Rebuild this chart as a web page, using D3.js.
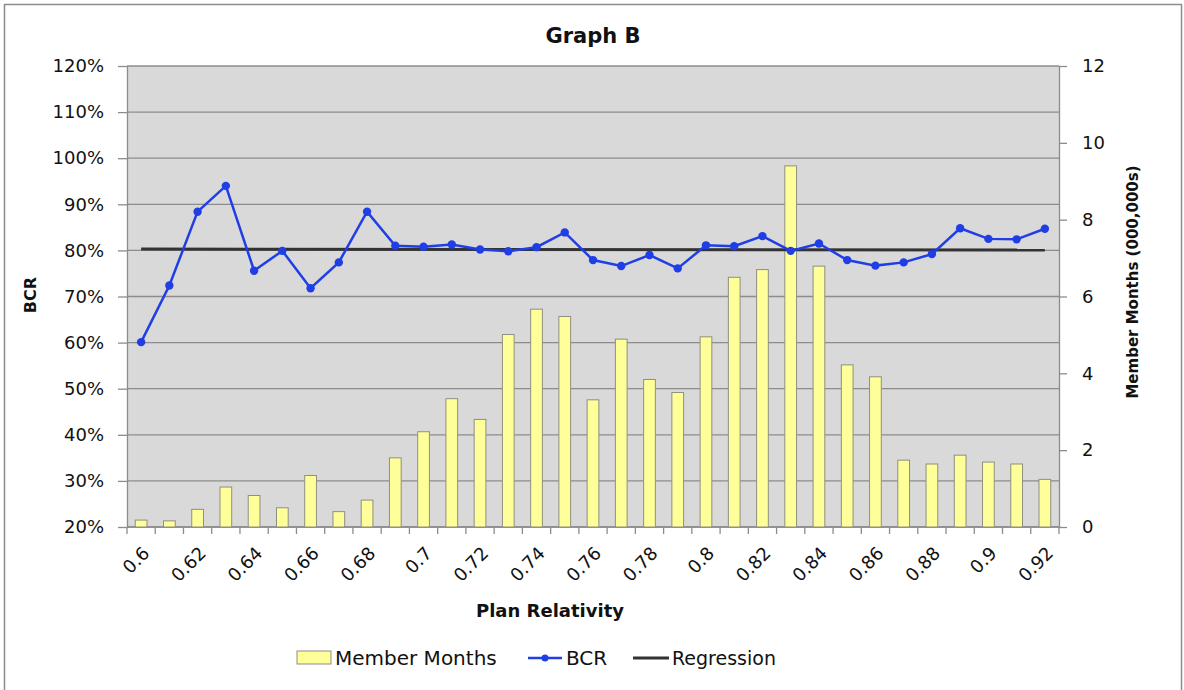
<!DOCTYPE html>
<html>
<head>
<meta charset="utf-8">
<script src="https://cdn.jsdelivr.net/npm/d3@7"></script>
<style>
html,body{margin:0;padding:0;background:#fff;}
svg{display:block;font-family:"DejaVu Sans",sans-serif;}
</style>
</head>
<body>
<svg id="chart" width="1184" height="690"></svg>
<script>
const categories = ["0.6","0.61","0.62","0.63","0.64","0.65","0.66","0.67","0.68","0.69","0.7","0.71","0.72","0.73","0.74","0.75","0.76","0.77","0.78","0.79","0.8","0.81","0.82","0.83","0.84","0.85","0.86","0.87","0.88","0.89","0.9","0.91","0.92"];
const memberMonths = [0.18,0.16,0.46,1.04,0.82,0.50,1.34,0.40,0.70,1.80,2.48,3.34,2.80,5.01,5.67,5.48,3.31,4.89,3.84,3.50,4.95,6.50,6.70,9.40,6.79,4.22,3.91,1.74,1.64,1.87,1.69,1.64,1.24];
const bcr = [60.1,72.4,88.4,94.0,75.6,79.9,71.8,77.4,88.4,81.0,80.8,81.3,80.2,79.8,80.7,83.9,77.9,76.6,79.0,76.1,81.1,80.9,83.1,79.9,81.5,77.9,76.7,77.4,79.2,84.8,82.5,82.4,84.7];
const regressionCats = ["0.6","0.92"];
const regressionVals = [80.3,80.1];
const xTickLabels = ["0.6","0.62","0.64","0.66","0.68","0.7","0.72","0.74","0.76","0.78","0.8","0.82","0.84","0.86","0.88","0.9","0.92"];
const leftTicks = [20,30,40,50,60,70,80,90,100,110,120];
const rightTicks = [0,2,4,6,8,10,12];

const svg = d3.select("#chart");
const L = 127, R = 1059, T = 66, B = 527;
const grid = "#8c8c8c";
const ink = "#111";

// outer border
svg.append("rect").attr("x",4.5).attr("y",4.5).attr("width",1177).attr("height",700)
  .attr("fill","#fff").attr("stroke","#8c8c8c").attr("stroke-width",1.5);

const x = d3.scaleBand().domain(categories).range([L,R]).paddingInner(0).paddingOuter(0);
const xBar = d3.scaleBand().domain(categories).range([L,R]).paddingInner(0.585).paddingOuter(0.2925);
const yL = d3.scaleLinear().domain([20,120]).range([B,T]);
const yR = d3.scaleLinear().domain([0,12]).range([B,T]);
const cx = c => x(c) + x.bandwidth()/2;

// plot background
svg.append("rect").attr("x",L).attr("y",T).attr("width",R-L).attr("height",B-T).attr("fill","#d9d9d9");

// gridlines
svg.append("g").selectAll("line").data(leftTicks).join("line")
  .attr("x1",L).attr("x2",R).attr("y1",d=>yL(d)).attr("y2",d=>yL(d))
  .attr("stroke",grid).attr("stroke-width",1.3);

// left axis
const axL = svg.append("g").attr("transform",`translate(${L},0)`)
  .call(d3.axisLeft(yL).tickValues(leftTicks).tickFormat(d=>d+"%").tickSize(9).tickPadding(14).tickSizeOuter(0));
axL.select(".domain").attr("stroke",grid).attr("stroke-width",1.3);
axL.selectAll(".tick line").attr("stroke",grid).attr("stroke-width",1.3);
axL.selectAll("text").attr("font-size",18).attr("fill",ink).attr("font-family","DejaVu Sans");

// right axis
const axR = svg.append("g").attr("transform",`translate(${R},0)`)
  .call(d3.axisRight(yR).tickValues(rightTicks).tickSize(8).tickPadding(15).tickSizeOuter(0));
axR.select(".domain").attr("stroke",grid).attr("stroke-width",1.3);
axR.selectAll(".tick line").attr("stroke",grid).attr("stroke-width",1.3);
axR.selectAll("text").attr("font-size",18).attr("fill",ink).attr("font-family","DejaVu Sans");

// bottom axis line and boundary ticks
svg.append("line").attr("x1",L).attr("x2",R).attr("y1",B).attr("y2",B).attr("stroke",grid).attr("stroke-width",1.3);
const bounds = categories.map(c=>x(c)).concat([x(categories[categories.length-1])+x.bandwidth()]);
svg.append("g").selectAll("line").data(bounds).join("line")
  .attr("x1",d=>d).attr("x2",d=>d).attr("y1",B).attr("y2",B+7)
  .attr("stroke",grid).attr("stroke-width",1.3);

// x tick labels
svg.append("g").selectAll("text").data(xTickLabels).join("text")
  .attr("transform",d=>`translate(${cx(d)+5},${B+23}) rotate(-45)`)
  .attr("text-anchor","end").attr("dy","0.35em")
  .attr("font-size",18).attr("fill",ink).text(d=>d);

// bars
svg.append("g").selectAll("rect").data(categories).join("rect")
  .attr("x",c=>xBar(c)).attr("width",xBar.bandwidth())
  .attr("y",(c,i)=>yR(memberMonths[i])).attr("height",(c,i)=>B-yR(memberMonths[i]))
  .attr("fill","#ffff99").attr("stroke","#8f8f80").attr("stroke-width",1);

// regression
svg.append("path")
  .attr("d",d3.line().x(d=>cx(d[0])).y(d=>yL(d[1]))(regressionCats.map((c,i)=>[c,regressionVals[i]])))
  .attr("fill","none").attr("stroke","#333333").attr("stroke-width",3);

// BCR line
const blue = "#1f3ee6";
svg.append("path")
  .attr("d",d3.line().x(d=>cx(d[0])).y(d=>yL(d[1]))(categories.map((c,i)=>[c,bcr[i]])))
  .attr("fill","none").attr("stroke",blue).attr("stroke-width",2.5);
svg.append("g").selectAll("circle").data(categories).join("circle")
  .attr("cx",c=>cx(c)).attr("cy",(c,i)=>yL(bcr[i])).attr("r",4.2).attr("fill",blue);

// titles
svg.append("text").attr("x",593).attr("y",43).attr("text-anchor","middle")
  .attr("font-size",21).attr("font-weight","bold").attr("fill",ink).text("Graph B");
svg.append("text").attr("x",550).attr("y",617).attr("text-anchor","middle")
  .attr("font-size",18).attr("font-weight","bold").attr("fill",ink).text("Plan Relativity");
svg.append("text").attr("transform","translate(36,295) rotate(-90)").attr("text-anchor","middle")
  .attr("font-size",16).attr("font-weight","bold").attr("fill",ink).text("BCR");
svg.append("text").attr("transform","translate(1138,282) rotate(-90)").attr("text-anchor","middle")
  .attr("font-size",15).attr("font-weight","bold").attr("fill",ink).text("Member Months (000,000s)");

// legend
const lg = svg.append("g");
const ly = 658;
lg.append("rect").attr("x",297).attr("y",ly-7).attr("width",34).attr("height",13)
  .attr("fill","#ffff99").attr("stroke","#8f8f80").attr("stroke-width",1);
lg.append("text").attr("x",335).attr("y",ly).attr("dy","0.35em").attr("font-size",20).attr("fill",ink).text("Member Months");
lg.append("line").attr("x1",528).attr("x2",562).attr("y1",ly).attr("y2",ly).attr("stroke",blue).attr("stroke-width",2.5);
lg.append("circle").attr("cx",545).attr("cy",ly).attr("r",3.5).attr("fill",blue);
lg.append("text").attr("x",566).attr("y",ly).attr("dy","0.35em").attr("font-size",20).attr("fill",ink).text("BCR");
lg.append("line").attr("x1",633).attr("x2",669).attr("y1",ly).attr("y2",ly).attr("stroke","#333").attr("stroke-width",3);
lg.append("text").attr("x",672).attr("y",ly).attr("dy","0.35em").attr("font-size",19).attr("fill",ink).text("Regression");
</script>
</body>
</html>
